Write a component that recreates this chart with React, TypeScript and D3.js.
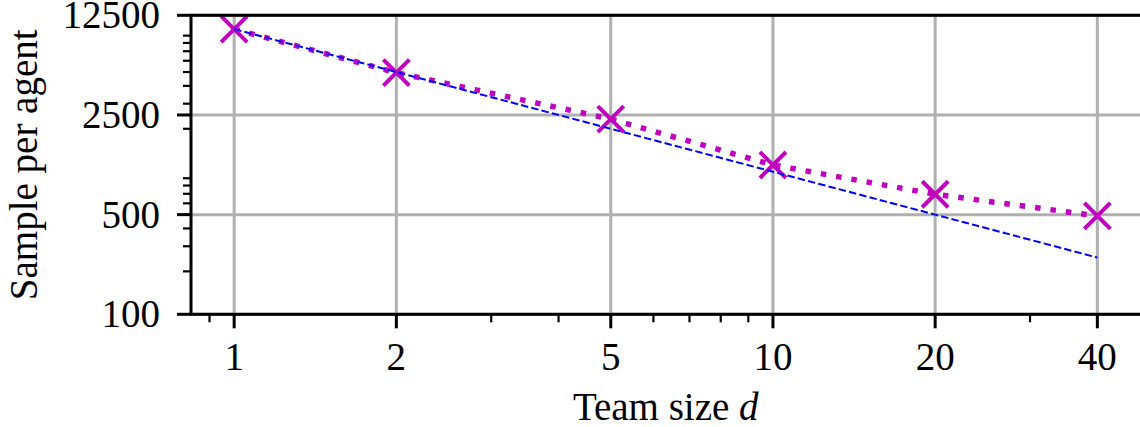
import React, { useEffect, useRef } from "react";
import * as d3 from "d3";

const teamSizes = [1, 2, 5, 10, 20, 40];
const samplesPerAgent = [10000, 4950, 2340, 1115, 695, 490];
const idealLine = [10000, 5000, 2000, 1000, 500, 250];
const xMajorTicks = [1, 2, 5, 10, 20, 40];
const xMinorTicks = [0.9, 3, 4, 6, 7, 8, 9, 30];
const yMajorTicks = [100, 500, 2500, 12500];
const yMinorTicks = [200, 300, 400, 600, 700, 800, 900, 2000, 3000, 4000, 5000, 6000, 7000, 8000, 9000];

const W = 1140;
const H = 427;
const M = { left: 191, right: 1140.5, top: 15.3, bottom: 314.3 };
const FONT = "'Liberation Serif', 'Times New Roman', serif";

export default function App() {
  const ref = useRef<SVGSVGElement | null>(null);

  useEffect(() => {
    const svg = d3.select(ref.current);
    svg.selectAll("*").remove();

    const pad = Math.pow(10, 0.05 * Math.log10(40));
    const x = d3.scaleLog().domain([1 / pad, 40 * pad]).range([M.left, M.right]);
    const y = d3.scaleLog().domain([100, 12500]).range([M.bottom, M.top]);

    const grid = svg.append("g");
    xMajorTicks.forEach((t) => {
      grid.append("line")
        .attr("x1", x(t)).attr("x2", x(t))
        .attr("y1", M.top).attr("y2", M.bottom)
        .attr("stroke", "#b0b0b0").attr("stroke-width", 3);
    });
    yMajorTicks.forEach((t) => {
      grid.append("line")
        .attr("x1", M.left).attr("x2", M.right)
        .attr("y1", y(t)).attr("y2", y(t))
        .attr("stroke", "#b0b0b0").attr("stroke-width", 3);
    });

    const line = d3.line<number>()
      .x((_, i) => x(teamSizes[i]))
      .y((v) => y(v));

    // measured data (magenta dotted + x markers)
    svg.append("path")
      .datum(samplesPerAgent)
      .attr("d", line)
      .attr("fill", "none")
      .attr("stroke", "#bf00bf")
      .attr("stroke-width", 5.5)
      .attr("stroke-dasharray", "5.5,10");

    const mk = 13;
    samplesPerAgent.forEach((v, i) => {
      const cx = x(teamSizes[i]);
      const cy = y(v);
      svg.append("path")
        .attr("d", `M${cx - mk},${cy - mk}L${cx + mk},${cy + mk}M${cx - mk},${cy + mk}L${cx + mk},${cy - mk}`)
        .attr("stroke", "#bf00bf")
        .attr("stroke-width", 4)
        .attr("fill", "none");
    });

    // ideal 1/d scaling (blue dashed)
    svg.append("path")
      .datum(idealLine)
      .attr("d", line)
      .attr("fill", "none")
      .attr("stroke", "#0000ff")
      .attr("stroke-width", 2)
      .attr("stroke-dasharray", "7.4,3.2");

    // spines (right spine falls just outside the picture)
    svg.append("rect")
      .attr("x", M.left).attr("y", M.top)
      .attr("width", M.right + 2 - M.left).attr("height", M.bottom - M.top)
      .attr("fill", "none").attr("stroke", "#000").attr("stroke-width", 3);

    const ax = svg.append("g");
    xMajorTicks.forEach((t) => {
      ax.append("line").attr("x1", x(t)).attr("x2", x(t))
        .attr("y1", M.bottom).attr("y2", M.bottom + 14)
        .attr("stroke", "#000").attr("stroke-width", 3);
      ax.append("text").attr("x", x(t)).attr("y", M.bottom + 56)
        .attr("text-anchor", "middle")
        .attr("font-family", FONT).attr("font-size", 39)
        .text(String(t));
    });
    xMinorTicks.forEach((t) => {
      ax.append("line").attr("x1", x(t)).attr("x2", x(t))
        .attr("y1", M.bottom).attr("y2", M.bottom + 8)
        .attr("stroke", "#000").attr("stroke-width", 2.2);
    });
    yMajorTicks.forEach((t) => {
      ax.append("line").attr("x1", M.left - 14).attr("x2", M.left)
        .attr("y1", y(t)).attr("y2", y(t))
        .attr("stroke", "#000").attr("stroke-width", 3);
      ax.append("text").attr("x", M.left - 31).attr("y", y(t) + 13)
        .attr("text-anchor", "end")
        .attr("font-family", FONT).attr("font-size", 39)
        .text(String(t));
    });
    yMinorTicks.forEach((t) => {
      ax.append("line").attr("x1", M.left - 8).attr("x2", M.left)
        .attr("y1", y(t)).attr("y2", y(t))
        .attr("stroke", "#000").attr("stroke-width", 2.2);
    });

    const xl = svg.append("text")
      .attr("x", (M.left + M.right) / 2).attr("y", 420)
      .attr("text-anchor", "middle")
      .attr("font-family", FONT).attr("font-size", 39);
    xl.append("tspan").text("Team size ");
    xl.append("tspan").attr("font-style", "italic").text("d");

    svg.append("text")
      .attr("transform", `translate(37,${(M.top + M.bottom) / 2}) rotate(-90)`)
      .attr("text-anchor", "middle")
      .attr("font-family", FONT).attr("font-size", 39)
      .text("Sample per agent");
  }, []);

  return (
    <svg
      ref={ref}
      width={W}
      height={H}
      style={{ position: "absolute", left: 0, top: 0, background: "#fff", display: "block" }}
    />
  );
}
